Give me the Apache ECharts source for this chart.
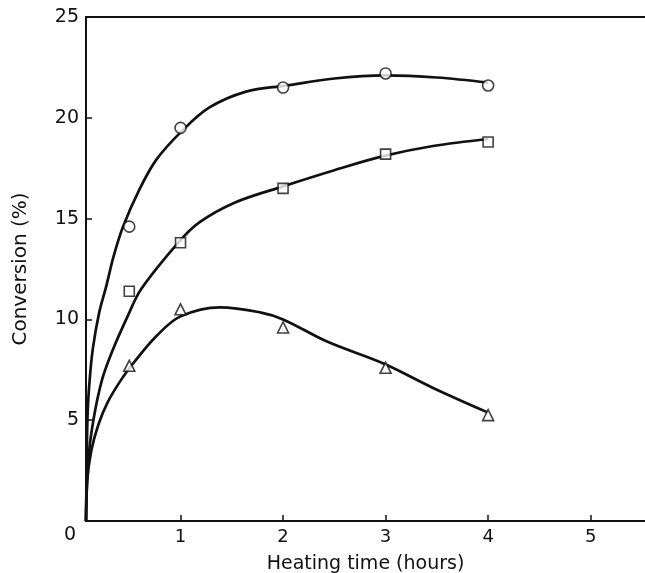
<!DOCTYPE html>
<html lang="en">
<head>
  <meta charset="UTF-8">
  <title>Conversion vs heating time</title>
  <script src="https://cdn.jsdelivr.net/npm/echarts@6/dist/echarts.min.js"></script>
  <style>
    html, body { margin: 0; padding: 0; background: #fff; }
    #chart { width: 645px; height: 573px; }
  </style>
</head>
<body>
  <div id="chart"></div>
  <script>
    // measured points (hours, %)
    var hours = [0.5, 1, 2, 3, 4];
    var circlePts = [14.6, 19.5, 21.5, 22.2, 21.6];
    var squarePts = [11.4, 13.8, 16.5, 18.2, 18.8];
    var trianglePts = [7.7, 10.5, 9.6, 7.6, 5.25];

    // hand drawn curves as [x, y]
    // (the drawn axis sits a little right of x = 0, curves start at that corner)
    var circleCurve = [[0.078, 0], [0.085, 3], [0.095, 5.5], [0.117, 7.2], [0.146, 8.6], [0.205, 10.3],
      [0.273, 11.6], [0.351, 13.2], [0.439, 14.6], [0.595, 16.4], [0.761, 17.9], [1.005, 19.3],
      [1.278, 20.5], [1.639, 21.3], [2.03, 21.6], [2.5, 21.95], [3, 22.1], [3.5, 22.0], [4, 21.75]];
    var squareCurve = [[0.078, 0], [0.1, 3], [0.15, 5], [0.234, 7.0], [0.332, 8.4], [0.488, 10.2],
      [0.615, 11.5], [0.976, 13.8], [1.18, 14.8], [1.532, 15.8], [2, 16.6], [2.5, 17.4],
      [2.976, 18.1], [3.463, 18.6], [4, 18.95]];
    var triangleCurve = [[0.078, 0], [0.09, 2], [0.13, 3.5], [0.2, 4.8], [0.29, 5.9], [0.42, 7.0],
      [0.535, 7.8], [0.77, 9.2], [1.0, 10.15], [1.385, 10.6], [1.776, 10.35], [2, 10.0],
      [2.429, 8.9], [2.985, 7.8], [3.463, 6.6], [3.99, 5.4]];

    var xTicks = [1, 2, 3, 4, 5];
    var yTicks = [0, 5, 10, 15, 20, 25];

    function pairs(xs, ys) {
      var out = [];
      for (var i = 0; i < xs.length; i++) out.push([xs[i], ys[i]]);
      return out;
    }

    var font = 'DejaVu Sans';
    var ink = '#111';

    var chart = echarts.init(document.getElementById('chart'), null, {renderer: 'canvas'});

    function curve(data) {
      return {
        type: 'line', data: data, smooth: 0.35, showSymbol: false, symbol: 'none',
        lineStyle: {color: ink, width: 2.7}, silent: true, z: 2
      };
    }
    function marks(sym, size, data) {
      return {
        type: 'scatter', data: data, symbol: sym, symbolSize: size,
        itemStyle: {color: '#fff', borderColor: ink, borderWidth: 1.6}, z: 3
      };
    }

    chart.setOption({
      animation: false,
      backgroundColor: '#fff',
      grid: {left: 86, right: 0, top: 17, bottom: 52, containLabel: false, outerBoundsMode: 'none'},
      xAxis: [{
        type: 'value', min: 0.078, max: 5.53,
        name: 'Heating time (hours)', nameLocation: 'middle', nameGap: 34,
        nameTextStyle: {fontFamily: font, fontSize: 19, color: ink},
        axisLine: {lineStyle: {color: ink, width: 2}},
        axisTick: {inside: true, length: 6, customValues: xTicks, lineStyle: {color: ink, width: 1.5}},
        axisLabel: {fontFamily: font, fontSize: 18, color: ink, margin: 7, customValues: xTicks},
        splitLine: {show: false}
      }, {
        type: 'value', position: 'top', min: 0.078, max: 5.53,
        axisLine: {show: true, lineStyle: {color: ink, width: 2}},
        axisTick: {show: false}, axisLabel: {show: false}, splitLine: {show: false}
      }],
      yAxis: {
        type: 'value', min: yTicks[0], max: yTicks[yTicks.length - 1], interval: 5,
        name: 'Conversion (%)', nameLocation: 'middle', nameGap: 55,
        nameTextStyle: {fontFamily: font, fontSize: 20, color: ink},
        axisLine: {lineStyle: {color: ink, width: 2}},
        axisTick: {inside: true, length: 6, lineStyle: {color: ink, width: 1.5}},
        axisLabel: {
          fontFamily: font, fontSize: 19, color: ink, margin: 7,
          formatter: function (v) { return v === 0 ? '' : String(v); }
        },
        splitLine: {show: false}
      },
      graphic: [{
        type: 'text', left: 64, top: 526,
        style: {text: '0', fontFamily: font, fontSize: 19, fill: ink}
      }],
      series: [
        curve(circleCurve), curve(squareCurve), curve(triangleCurve),
        marks('circle', 11, pairs(hours, circlePts)),
        marks('rect', 10, pairs(hours, squarePts)),
        marks('triangle', 11, pairs(hours, trianglePts))
      ]
    });
  </script>
</body>
</html>
